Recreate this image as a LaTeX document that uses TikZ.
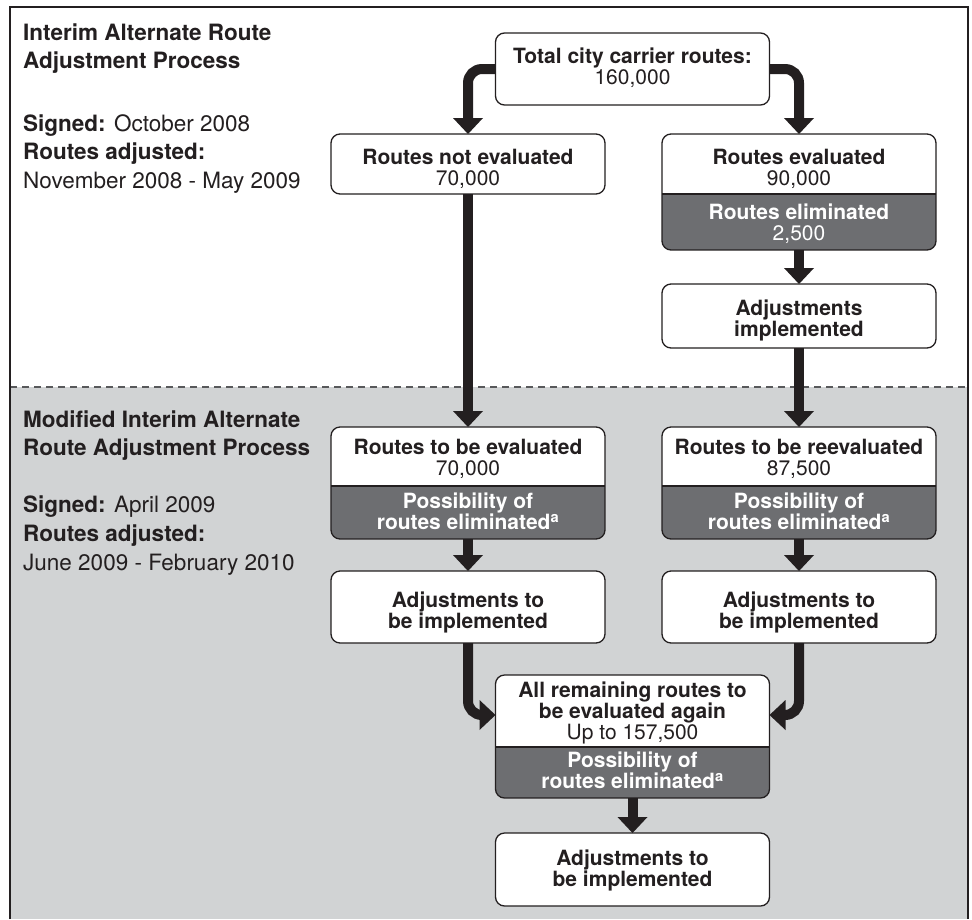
\documentclass[tikz,border=0pt]{standalone}
\usepackage{fontspec}
\setmainfont{TeX Gyre Heros}
\usetikzlibrary{arrows.meta}
\definecolor{ink}{HTML}{231F20}
\definecolor{darkpart}{HTML}{6D6E71}
\definecolor{lowbg}{HTML}{D1D3D4}
\definecolor{dashc}{HTML}{58595B}
\tikzset{
  box/.style={draw=ink, line width=1.3pt, rounded corners=9pt, fill=white,
    inner sep=0pt, outer sep=0pt, anchor=north west, minimum width=274pt},
  splitbox/.style={box, path picture={
    \fill[darkpart, sharp corners] ([yshift=-#1]path picture bounding box.north west) rectangle (path picture bounding box.south east);
    \draw[ink, line width=1.3pt, sharp corners] ([yshift=-#1]path picture bounding box.north west) -- ([yshift=-#1]path picture bounding box.north east);}},
  txt/.style={anchor=north, align=center, inner sep=0pt, text=ink,
    font=\fontsize{21}{21}\selectfont},
  wtxt/.style={txt, text=white},
  lefttxt/.style={anchor=north west, align=left, inner sep=0pt, text=ink},
  arr/.style={draw=ink, line width=10pt, rounded corners=14pt,
    -{Triangle[width=30pt,length=16pt,line width=0pt]}}
}
\begin{document}
\begin{tikzpicture}[x=1pt,y=-1pt]
\useasboundingbox (0,0) rectangle (972,919);
\fill[white] (0,0) rectangle (972,919);
\fill[lowbg] (10,387) rectangle (968,919);
\draw[dashc, line width=1.5pt, dash pattern=on 7pt off 5pt] (10,387) -- (968,387);
\draw[ink, line width=2pt] (10,919) -- (10,7) -- (968,7) -- (968,919);

% left texts
\node[lefttxt, font=\fontsize{22.5}{28}\selectfont\bfseries] (title1) at (23,24)
  {Interim Alternate Route\\Adjustment Process};
\node[lefttxt, font=\fontsize{22.5}{28.5}\selectfont] (sign1) at (23,114)
  {\textbf{Signed:} October 2008\\\textbf{Routes adjusted:}\\November 2008 - May 2009};
\node[lefttxt, font=\fontsize{22.5}{28}\selectfont\bfseries] (title2) at (23,411)
  {Modified Interim Alternate\\Route Adjustment Process};
\node[lefttxt, font=\fontsize{22.5}{29}\selectfont] (sign2) at (23,496)
  {\textbf{Signed:} April 2009\\\textbf{Routes adjusted:}\\June 2009 - February 2010};

% boxes
\node[box, minimum height=72pt] (total) at (495.5,33) {};
\node[box, minimum height=60pt] (notev) at (331,134) {};
\node[splitbox=60pt, minimum height=116pt] (ev) at (662,134) {};
\node[box, minimum height=64pt] (adjimpl) at (662,284) {};
\node[splitbox=59pt, minimum height=112pt] (tobeev) at (331,427) {};
\node[splitbox=59pt, minimum height=112pt] (tobere) at (662,427) {};
\node[box, minimum height=72pt] (adjL) at (331,571) {};
\node[box, minimum height=72pt] (adjR) at (662,571) {};
\node[splitbox=72pt, minimum height=123pt] (allrem) at (495.5,675) {};
\node[box, minimum height=73pt] (final) at (495.5,833) {};

% arrows
\draw[arr] (total.west) -| (notev.north);
\draw[arr] (total.east) -| (ev.north);
\draw[arr] (ev.south) -- (adjimpl.north);
\draw[arr] (notev.south) -- (tobeev.north);
\draw[arr] (adjimpl.south) -- (tobere.north);
\draw[arr] (tobeev.south) -- (adjL.north);
\draw[arr] (tobere.south) -- (adjR.north);
\draw[arr] (adjL.south) |- ([yshift=-40pt]allrem.north west);
\draw[arr] (adjR.south) |- ([yshift=-40pt]allrem.north east);
\draw[arr] (allrem.south) -- (final.north);

% box texts
\node[txt] (tTotal) at (632.5,48) {\textbf{Total city carrier routes:}\\160,000};
\node[txt] (tNotev) at (468,149) {\textbf{Routes not evaluated}\\70,000};
\node[txt] (tEv) at (799,149) {\textbf{Routes evaluated}\\90,000};
\node[wtxt] (tElim) at (799,204) {\textbf{Routes eliminated}\\2,500};
\node[txt] (tAdjI) at (799,300) {\textbf{Adjustments}\\\textbf{implemented}};
\node[txt] (tTbe) at (468,439) {\textbf{Routes to be evaluated}\\70,000};
\node[wtxt] (tPosL) at (468,493) {\textbf{Possibility of}\\\textbf{routes eliminated\textsuperscript{a}}};
\node[txt] (tTbr) at (799,439) {\textbf{Routes to be reevaluated}\\87,500};
\node[wtxt] (tPosR) at (799,493) {\textbf{Possibility of}\\\textbf{routes eliminated\textsuperscript{a}}};
\node[txt] (tAdjL) at (468,592) {\textbf{Adjustments to}\\\textbf{be implemented}};
\node[txt] (tAdjR) at (799,592) {\textbf{Adjustments to}\\\textbf{be implemented}};
\node[txt] (tAll) at (632.5,682) {\textbf{All remaining routes to}\\\textbf{be evaluated again}\\Up to 157,500};
\node[wtxt] (tPosM) at (632.5,752) {\textbf{Possibility of}\\\textbf{routes eliminated\textsuperscript{a}}};
\node[txt] (tFin) at (632.5,850) {\textbf{Adjustments to}\\\textbf{be implemented}};
\end{tikzpicture}
\end{document}
